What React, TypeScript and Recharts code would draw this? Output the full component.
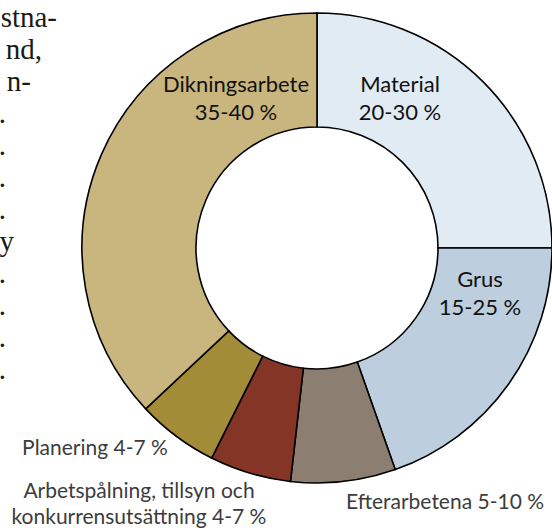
import React from "react";
import { PieChart, Pie, Cell } from "recharts";

const categories = [
  "Material",
  "Grus",
  "Efterarbetena",
  "Arbetspålning, tillsyn och konkurrensutsättning",
  "Planering",
  "Dikningsarbete",
];
const shares = [25, 19.6, 7.2, 5.6, 5.6, 37];
const rangeLabels = ["20-30 %", "15-25 %", "5-10 %", "4-7 %", "4-7 %", "35-40 %"];
const colors = ["#E1EBF3", "#BDCEDE", "#8C7E70", "#843525", "#A38C37", "#C8B67E"];

const data = categories.map((name, i) => ({ name, value: shares[i], range: rangeLabels[i] }));

// label layout: lines of text with centre x and baselines
const labelLayout = [
  { lines: ["Material", "20-30 %"], x: 400, y: [92, 120], fill: "#111", size: 22 },
  { lines: ["Grus", "15-25 %"], x: 480, y: [287, 315], fill: "#111", size: 22 },
  { lines: ["Efterarbetena 5-10 %"], x: 445, y: [509], fill: "#3c3c3c", size: 21 },
  { lines: ["Arbetspålning, tillsyn och", "konkurrensutsättning 4-7 %"], x: 139, y: [498, 524], fill: "#3c3c3c", size: 21 },
  { lines: ["Planering 4-7 %"], x: 95, y: [455], fill: "#3c3c3c", size: 21 },
  { lines: ["Dikningsarbete", "35-40 %"], x: 236, y: [92, 120], fill: "#111", size: 22 },
];

const sideText = ["stna-", "nd,", "n-", ".", ".", ".", ".", "y", ".", ".", ".", "."];
const sideTextEnd = [57, 42, 31, 6, 6, 6, 6, 14, 6, 6, 6, 6];

const FONT = "Lato, 'Open Sans', sans-serif";

const renderLabel = (props: any) => {
  const { index } = props;
  const l = labelLayout[index];
  return (
    <g key={`lbl-${index}`}>
      {l.lines.map((t, j) => (
        <text
          key={j}
          x={l.x}
          y={l.y[j]}
          textAnchor="middle"
          fontFamily={FONT}
          fontSize={l.size}
          fill={l.fill}
        >
          {t}
        </text>
      ))}
    </g>
  );
};

export default function App() {
  return (
    <div style={{ position: "absolute", left: 0, top: 0, width: 552, height: 530, background: "#fff", overflow: "hidden" }}>
      <svg width={552} height={530} style={{ position: "absolute", left: 0, top: 0 }}>
        {sideText.map((t, i) => (
          <text
            key={i}
            x={sideTextEnd[i]}
            y={27 + 32 * i}
            textAnchor="end"
            fontFamily="'Liberation Serif', 'DejaVu Serif', serif"
            fontSize={29}
            fill="#1a1a1a"
          >
            {t}
          </text>
        ))}
      </svg>
      <div style={{ position: "absolute", left: 0, top: 0 }}>
        <PieChart width={552} height={530} margin={{ top: 0, right: 0, bottom: 0, left: 0 }}>
          <Pie
            data={data}
            dataKey="value"
            nameKey="name"
            cx={317}
            cy={248}
            innerRadius={121}
            outerRadius={235}
            startAngle={90}
            endAngle={-270}
            stroke="#000"
            strokeWidth={1.6}
            label={renderLabel}
            labelLine={false}
            isAnimationActive={false}
          >
            {data.map((d, i) => (
              <Cell key={d.name} fill={colors[i]} stroke="#000" strokeWidth={1.6} />
            ))}
          </Pie>
        </PieChart>
      </div>
    </div>
  );
}
